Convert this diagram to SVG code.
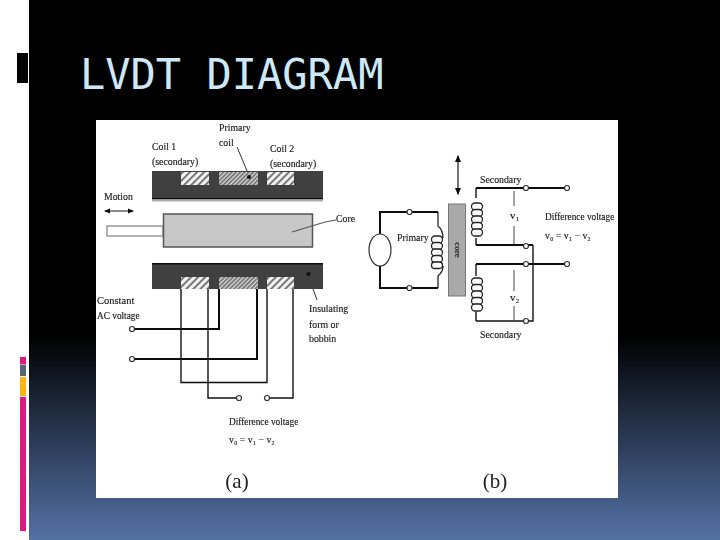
<svg xmlns="http://www.w3.org/2000/svg" width="720" height="540" viewBox="0 0 720 540">
<style>
.t{font-family:"Liberation Serif",serif;font-size:9.8px;fill:#1a1a1a;stroke:#1a1a1a;stroke-width:0.15}
.d{font-size:9.300px}
.w{fill:none;stroke:#111;stroke-width:1.4}
.b{fill:none;stroke:#111;stroke-width:2}
.n{fill:#fff;stroke:#333;stroke-width:1.2}
.c{fill:none;stroke:#222;stroke-width:1.3}
.l{fill:#fff;stroke:#222;stroke-width:1.3}
</style>
<defs>
<linearGradient id="bg" x1="0" y1="0" x2="0" y2="1"><stop offset="0" stop-color="#000"/><stop offset="0.62" stop-color="#000"/><stop offset="0.8" stop-color="#27364f"/><stop offset="1" stop-color="#5471a5"/></linearGradient>
<pattern id="h1" width="5" height="5" patternUnits="userSpaceOnUse" patternTransform="rotate(45)"><rect width="5" height="5" fill="#f2f2f2"/><rect width="2" height="5" fill="#777"/></pattern>
<pattern id="h2" width="3" height="3" patternUnits="userSpaceOnUse" patternTransform="rotate(45)"><rect width="3" height="3" fill="#d8d8d8"/><rect width="1.5" height="3" fill="#666"/></pattern>
<filter id="s" x="-5%" y="-5%" width="110%" height="110%"><feGaussianBlur stdDeviation="0.6"/></filter>
<marker id="a" markerWidth="6" markerHeight="6" refX="5" refY="3" orient="auto-start-reverse"><path d="M0 0.5L6 3L0 5.5Z" fill="#111"/></marker>
</defs>
<rect width="720" height="540" fill="url(#bg)"/>
<rect x="0" y="0" width="29" height="540" fill="#fff"/>
<rect x="17" y="53" width="11" height="30" fill="#000"/>
<rect x="20" y="357" width="6" height="174" fill="#e0197d"/>
<rect x="20" y="364.500" width="6" height="1" fill="#fff"/>
<rect x="20" y="365" width="6" height="11" fill="#566577"/>
<rect x="20" y="376" width="6" height="1" fill="#fff"/>
<rect x="20" y="377" width="6" height="19" fill="#fdb515"/>
<rect x="20" y="396" width="6" height="1" fill="#fff"/>
<text x="80" y="88.500" font-family="'DejaVu Sans Mono',monospace" font-size="42" fill="#cde9f8">LVDT DIAGRAM</text>
<rect x="96" y="120" width="522" height="378" fill="#fff"/>
<g filter="url(#s)">
<g id="connectors">
<path class="w" d="M181 289V382.500H267V289M208 289V398H236M293 289V398H270"/>
<path class="b" d="M219 289V329H135M257 289V359H135"/>
<path class="b" d="M380 234V212H438M380 266V288H438"/>
<path class="c" d="M438 212V226Q443 230 443 238M438 288V276Q443 272 443 266"/>
<path class="b" d="M476 188H564M476 245H533M476 264H564"/>
<path class="w" d="M533 245V321H476M476 264V276M476 188V198M476 245V238M476 321V312"/>
<path d="M458 156V194" stroke="#111" stroke-width="1.2" marker-start="url(#a)" marker-end="url(#a)"/>
<path d="M514 191V206M514 226V244M514 270V291M514 306V320" stroke="#333" stroke-width="0.9"/>
<path d="M105 211H133" stroke="#111" stroke-width="1" marker-start="url(#a)" marker-end="url(#a)"/>
<path d="M237 147L250 178M307 272L317 300" stroke="#333" stroke-width="1" fill="none"/>
</g>
<g id="transducer">
<rect x="152" y="171" width="171" height="28" fill="#414141"/>
<rect x="152" y="198" width="171" height="1.500" fill="#111"/>
<rect x="152" y="199.500" width="171" height="2" fill="#aaa"/>
<rect x="152" y="263" width="171" height="26" fill="#414141"/>
<rect x="152" y="263" width="171" height="1.500" fill="#111"/>
<rect x="181" y="172" width="28" height="13" fill="url(#h1)"/>
<rect x="219" y="172" width="39" height="13" fill="url(#h2)"/>
<rect x="267" y="172" width="27" height="13" fill="url(#h1)"/>
<rect x="181" y="277" width="28" height="12" fill="url(#h1)"/>
<rect x="219" y="277" width="39" height="12" fill="url(#h2)"/>
<rect x="267" y="277" width="27" height="12" fill="url(#h1)"/>
<circle cx="249" cy="177" r="2" fill="#111"/>
<circle cx="308.500" cy="274" r="2" fill="#111"/>
<rect x="107" y="226" width="56" height="10" fill="#fff" stroke="#666"/>
<rect x="163.500" y="214" width="149" height="33" fill="#c8c8c8" stroke="#555" stroke-width="1.500"/>
<path d="M292 232L325 222L336 220" stroke="#555" stroke-width="1.200" fill="none"/>
</g>
<g id="terminals-a">
<circle class="n" cx="132" cy="329" r="2.500"/><circle class="n" cx="132" cy="359" r="2.500"/>
<circle class="n" cx="239" cy="398" r="2.500"/><circle class="n" cx="267" cy="398" r="2.500"/>
</g>
<g id="source"><ellipse cx="380" cy="250" rx="11" ry="16" fill="#fff" stroke="#333" stroke-width="1.200"/></g>
<g id="primary-coil">
<rect class="l" x="431.500" y="236" width="11" height="7" rx="3.500"/><rect class="l" x="431.500" y="242.500" width="11" height="7" rx="3.500"/><rect class="l" x="431.500" y="249" width="11" height="7" rx="3.500"/><rect class="l" x="431.500" y="255.500" width="11" height="7" rx="3.500"/><rect class="l" x="431.500" y="262" width="11" height="6.500" rx="3.200"/>
</g>
<g id="core"><rect x="448.500" y="204" width="17" height="92" fill="#a9a9a9" stroke="#777"/><text x="457" y="250" class="t" text-anchor="middle" dominant-baseline="middle" transform="rotate(90 457 250)" style="font-size:9px">core</text></g>
<g id="secondary-coils">
<rect class="l" x="471.500" y="203" width="11" height="7" rx="3.500"/><rect class="l" x="471.500" y="209.500" width="11" height="7" rx="3.500"/><rect class="l" x="471.500" y="216" width="11" height="7" rx="3.500"/><rect class="l" x="471.500" y="222.500" width="11" height="7" rx="3.500"/><rect class="l" x="471.500" y="229" width="11" height="7" rx="3.500"/>
<rect class="l" x="471.500" y="278" width="11" height="7" rx="3.500"/><rect class="l" x="471.500" y="284.500" width="11" height="7" rx="3.500"/><rect class="l" x="471.500" y="291" width="11" height="7" rx="3.500"/><rect class="l" x="471.500" y="297.500" width="11" height="7" rx="3.500"/><rect class="l" x="471.500" y="304" width="11" height="7" rx="3.500"/>
</g>
<g id="terminals-b">
<circle class="n" cx="409.500" cy="212" r="2.500"/><circle class="n" cx="409.500" cy="288" r="2.500"/>
<circle class="n" cx="526" cy="188" r="2.500"/><circle class="n" cx="567" cy="188" r="2.500"/>
<circle class="n" cx="526" cy="246" r="2.500"/><circle class="n" cx="526" cy="264" r="2.500"/><circle class="n" cx="567" cy="264" r="2.500"/>
<circle class="n" cx="526" cy="321" r="2.500"/>
</g>
<g id="labels">
<text class="t" x="219" y="131">Primary</text><text class="t" x="219" y="146">coil</text>
<text class="t" x="152" y="150">Coil 1</text><text class="t" x="152" y="165">(secondary)</text>
<text class="t" x="270" y="152">Coil 2</text><text class="t" x="270" y="167">(secondary)</text>
<text class="t" x="104" y="200">Motion</text>
<text class="t" x="336" y="222">Core</text>
<text class="t" x="97" y="304" style="font-size:10.5px">Constant</text><text class="t d" x="97" y="319">AC voltage</text>
<text class="t" x="309" y="312">Insulating</text><text class="t" x="309" y="328">form or</text><text class="t" x="309" y="342">bobbin</text>
<text class="t d" x="229" y="425">Difference voltage</text>
<text class="t" x="229" y="443">v₀ = v₁ − v₂</text>
<text class="t" x="480" y="183">Secondary</text>
<text class="t" x="480" y="338">Secondary</text>
<text class="t" x="397" y="241">Primary</text>
<text class="t" x="510" y="219" style="font-size:11px">v₁</text><text class="t" x="510" y="301" style="font-size:11px">v₂</text>
<text class="t d" x="545" y="220">Difference voltage</text>
<text class="t" x="545" y="239">v₀ = v₁ − v₂</text>
<text x="237" y="488" font-family="'Liberation Serif',serif" font-size="21" fill="#222" text-anchor="middle">(a)</text>
<text x="495" y="488" font-family="'Liberation Serif',serif" font-size="21" fill="#222" text-anchor="middle">(b)</text>
</g>
</g>
</svg>
